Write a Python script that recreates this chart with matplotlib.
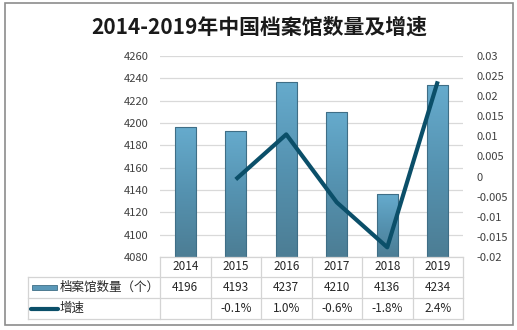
import matplotlib
matplotlib.use("Agg")
import matplotlib.pyplot as plt
import numpy as np
from matplotlib.colors import LinearSegmentedColormap
from matplotlib.patches import Rectangle
from matplotlib.lines import Line2D

plt.rcParams['font.family'] = ['Noto Sans CJK SC', 'DejaVu Sans']

years = ['2014', '2015', '2016', '2017', '2018', '2019']
counts = [4196, 4193, 4237, 4210, 4136, 4234]
growth = [None, -0.0007, 0.0105, -0.0064, -0.0176, 0.0237]
growth_labels = ['', '-0.1%', '1.0%', '-0.6%', '-1.8%', '2.4%']
series_names = ['档案馆数量（个）', '增速']
title = '2014-2019年中国档案馆数量及增速'

W, H = 517, 330
fig = plt.figure(figsize=(W / 100, H / 100), dpi=100)
fig.patch.set_facecolor('white')

def fx(px):
    return px / W

def fy(py):
    return 1 - py / H

# outer border
fig.add_artist(Rectangle((fx(5), fy(325)), fx(508), 322 / H, transform=fig.transFigure,
                         fill=False, edgecolor='#8c8c8c', linewidth=1.2))

fig.text(fx(259), fy(27), title, ha='center', va='center', fontsize=15,
         fontweight='bold', color='#1a1a1a')

ax_l, ax_r, ax_t, ax_b = 160, 463, 56, 257
ax = fig.add_axes([fx(ax_l), fy(ax_b), (ax_r - ax_l) / W, (ax_b - ax_t) / H])
ax2 = ax.twinx()

x = np.arange(len(years))
ax.set_xlim(-0.5, len(years) - 0.5)
ax.set_ylim(4080, 4260)
ax.set_yticks(np.arange(4080, 4261, 20))
ax.grid(axis='y', color='#d9d9d9', linewidth=0.9)
ax.set_axisbelow(True)
ax.set_xticks([])
for s in ['top', 'right', 'left', 'bottom']:
    ax.spines[s].set_visible(False)
    ax2.spines[s].set_visible(False)
ax.tick_params(axis='y', length=0, labelsize=8, labelcolor='#404040', pad=8)

cmap = LinearSegmentedColormap.from_list('barg', ['#4c7d94', '#5592b0', '#66abcd'])
bars = ax.bar(x, counts, width=0.42, color='none', edgecolor='#3f6e86', linewidth=0.8, zorder=3)
grad = np.linspace(0, 1, 256).reshape(-1, 1)
for b in bars:
    x0, y0 = b.get_x(), 4080
    w, h = b.get_width(), b.get_height()
    im = ax.imshow(grad, cmap=cmap, aspect='auto', origin='lower',
                   extent=[x0, x0 + w, y0, b.get_y() + h], zorder=2)
    im.set_clip_path(b)
ax.set_xlim(-0.5, len(years) - 0.5)
ax.set_ylim(4080, 4260)

gx = [i for i, g in enumerate(growth) if g is not None]
gy = [g for g in growth if g is not None]
ax2.plot(gx, gy, color='#0b4f69', linewidth=3, zorder=5, solid_capstyle='butt')
ax2.set_ylim(-0.02, 0.03)
ax2.set_yticks([-0.02, -0.015, -0.01, -0.005, 0, 0.005, 0.01, 0.015, 0.02, 0.025, 0.03])
ax2.set_yticklabels(['-0.02', '-0.015', '-0.01', '-0.005', '0', '0.005', '0.01', '0.015',
                     '0.02', '0.025', '0.03'])
ax2.tick_params(axis='y', length=0, labelsize=8, labelcolor='#404040', pad=10)
for lab in ax2.get_yticklabels():
    lab.set_horizontalalignment('left')

# data table
col_edges = [160, 210.5, 261, 311.5, 362, 412.5, 463]
row_edges = [257, 277, 298, 319]
left_edge = 28
gc = '#d4d4d4'
lw = 0.9
def hline(y, x0, x1):
    fig.add_artist(Line2D([fx(x0), fx(x1)], [fy(y), fy(y)], transform=fig.transFigure, color=gc, lw=lw))
def vline(xp, y0, y1):
    fig.add_artist(Line2D([fx(xp), fx(xp)], [fy(y0), fy(y1)], transform=fig.transFigure, color=gc, lw=lw))

hline(row_edges[0], col_edges[0], col_edges[-1])
for r in row_edges[1:]:
    hline(r, left_edge, col_edges[-1])
for c in col_edges:
    vline(c, row_edges[0], row_edges[-1])
vline(left_edge, row_edges[1], row_edges[-1])

for i, yr in enumerate(years):
    cx = (col_edges[i] + col_edges[i + 1]) / 2
    fig.text(fx(cx), fy((row_edges[0] + row_edges[1]) / 2), yr, ha='center', va='center',
             fontsize=8.5, color='#262626')
    fig.text(fx(cx), fy((row_edges[1] + row_edges[2]) / 2), str(counts[i]), ha='center', va='center',
             fontsize=8.5, color='#262626')
    fig.text(fx(cx), fy((row_edges[2] + row_edges[3]) / 2), growth_labels[i], ha='center', va='center',
             fontsize=8.5, color='#262626')

# legend keys in table
r1 = (row_edges[1] + row_edges[2]) / 2
r2 = (row_edges[2] + row_edges[3]) / 2
fig.add_artist(Rectangle((fx(32), fy(r1 + 2.5)), fx(25), 5 / H, transform=fig.transFigure,
                         facecolor='#5a98b8', edgecolor='#3f6e86', linewidth=0.6))
fig.add_artist(Line2D([fx(31), fx(58)], [fy(r2), fy(r2)], transform=fig.transFigure,
                      color='#0b4f69', lw=3, solid_capstyle='round'))
fig.text(fx(60), fy(r1), series_names[0], ha='left', va='center', fontsize=9, color='#262626')
fig.text(fx(60), fy(r2), series_names[1], ha='left', va='center', fontsize=9, color='#262626')

fig.savefig('out.png', dpi=100, facecolor='white')
